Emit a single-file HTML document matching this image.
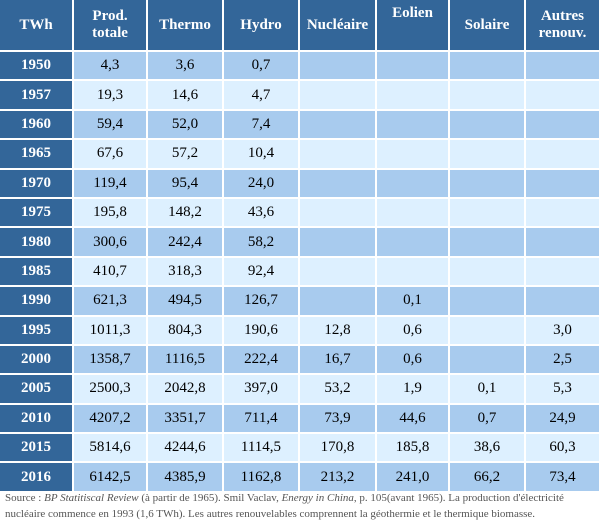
<!DOCTYPE html>
<html><head><meta charset="utf-8"><style>
body{margin:0;width:605px;height:525px;background:#fff;overflow:hidden;font-family:"Liberation Serif",serif}
table{position:absolute;left:0;top:0;border-collapse:separate;border-spacing:0;table-layout:fixed;width:601px}
td,th{border-right:2px solid #fff;border-bottom:2px solid #fff;text-align:center;font-size:15px;padding:0;color:#000}
th{background:#336699;color:#fff;font-weight:bold;height:45px;line-height:17px;font-size:15px}
td.y{background:#336699;color:#fff;font-weight:bold}
tr.o td{background:#a8cbee}
tr.e td{background:#ddf0ff}
tr.o td.y,tr.e td.y{background:#336699}
td{height:27.4px}
.note{position:absolute;left:5px;top:490px;font-size:11px;line-height:16px;color:#555;width:600px}
</style></head><body>
<table>
<colgroup><col style="width:74px"><col style="width:74px"><col style="width:76px"><col style="width:76px"><col style="width:77px"><col style="width:73px"><col style="width:76px"><col style="width:75px"></colgroup>
<thead><tr>
<th>TWh</th>
<th>Prod.<br>totale</th>
<th>Thermo</th>
<th>Hydro</th>
<th>Nucléaire</th>
<th style="vertical-align:top;padding-top:5px">Eolien</th>
<th>Solaire</th>
<th>Autres<br>renouv.</th>
</tr></thead>
<tbody id="tb"></tbody>
</table>
<div class="note">Source : <i>BP Statitiscal Review</i> (à partir de 1965). Smil Vaclav, <i>Energy in China</i>, p. 105(avant 1965). La production d'électricité nucléaire commence en 1993 (1,6 TWh). Les autres renouvelables comprennent la géothermie et le thermique biomasse.</div>
<script>
const years=["1950","1957","1960","1965","1970","1975","1980","1985","1990","1995","2000","2005","2010","2015","2016"];
const prod=["4,3","19,3","59,4","67,6","119,4","195,8","300,6","410,7","621,3","1011,3","1358,7","2500,3","4207,2","5814,6","6142,5"];
const thermo=["3,6","14,6","52,0","57,2","95,4","148,2","242,4","318,3","494,5","804,3","1116,5","2042,8","3351,7","4244,6","4385,9"];
const hydro=["0,7","4,7","7,4","10,4","24,0","43,6","58,2","92,4","126,7","190,6","222,4","397,0","711,4","1114,5","1162,8"];
const nucl=["","","","","","","","","","12,8","16,7","53,2","73,9","170,8","213,2"];
const eol=["","","","","","","","","0,1","0,6","0,6","1,9","44,6","185,8","241,0"];
const sol=["","","","","","","","","","","","0,1","0,7","38,6","66,2"];
const autres=["","","","","","","","","","3,0","2,5","5,3","24,9","60,3","73,4"];
const tb=document.getElementById('tb');
const cols=[prod,thermo,hydro,nucl,eol,sol,autres];
const names=['prod','thermo','hydro','nucleaire','eolien','solaire','autres'];
years.forEach((y,i)=>{
  const tr=document.createElement('tr');
  tr.className=i%2?'e':'o';
  
  
  const td=document.createElement('td');td.className='y';td.textContent=y;
  
  
  tr.appendChild(td);
  cols.forEach((c,j)=>{
    const d=document.createElement('td');d.textContent=c[i];
    
    
    tr.appendChild(d);
  });
  tb.appendChild(tr);
});
</script>
</body></html>
